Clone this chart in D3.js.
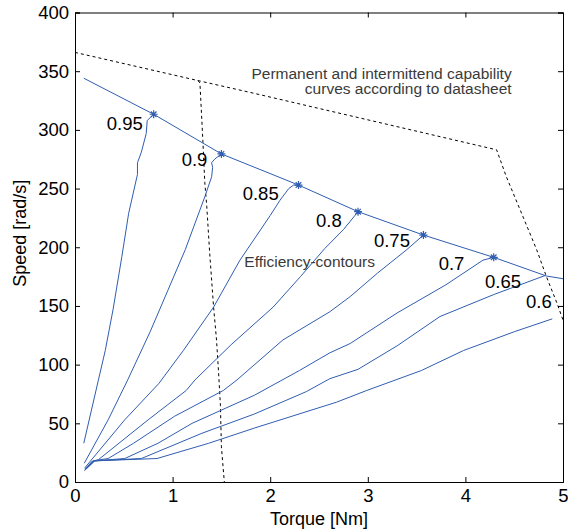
<!DOCTYPE html>
<html>
<head>
<meta charset="utf-8">
<script src="https://cdn.jsdelivr.net/npm/d3@7"></script>
<style>
  body { margin: 0; background: #fff; }
  svg { display: block; font-family: "Liberation Sans", Arial, sans-serif; }
</style>
</head>
<body>
<div id="chart"></div>
<script>
// torque [Nm] vs speed [rad/s]
const xTicks = [0, 1, 2, 3, 4, 5];
const yTicks = [0, 50, 100, 150, 200, 250, 300, 350, 400];

// upper operating envelope (blue)
const envelope = [[0.09, 344], [0.806, 313.3], [1.5, 279.5], [2.29, 253], [2.9, 230.3],
                  [3.57, 210.4], [4.29, 191.4], [4.83, 175.5], [5.0, 173.2]];

// stars on the envelope
const starPoints = [[0.806, 313.3], [1.5, 279.5], [2.29, 253], [2.9, 230.3], [3.57, 210.4], [4.29, 191.4]];

// datasheet capability curves (dashed)
const intermittent = [[0, 366], [1.26, 342], [1.79, 332], [4.32, 283], [4.42, 260],
                      [4.73, 198], [4.83, 175], [4.94, 152], [5.0, 138]];
const permanent = [[1.26, 342], [1.28, 340], [1.31, 291], [1.33, 255], [1.35, 235], [1.38, 195],
                   [1.42, 149], [1.45, 121], [1.47, 95], [1.49, 65], [1.50, 30], [1.53, 0]];

// efficiency contours
const effLevels = ['0.95', '0.9', '0.85', '0.8', '0.75', '0.7', '0.65', '0.6'];
const eff95 = [[0.09, 33], [0.24, 87], [0.31, 112], [0.39, 147], [0.48, 192], [0.55, 229], [0.64, 262],
               [0.64, 272], [0.68, 281], [0.73, 297], [0.74, 308], [0.806, 313.3]];
const eff90 = [[0.095, 16], [0.34, 53], [0.54, 87], [0.77, 128], [0.95, 163], [1.13, 198], [1.33, 243],
               [1.40, 260], [1.41, 268], [1.40, 272], [1.43, 275], [1.5, 279.5]];
const eff85 = [[0.1, 12], [0.15, 17], [0.51, 53], [0.86, 84], [1.11, 112], [1.42, 149], [1.69, 189],
               [2.0, 227], [2.1, 240], [2.19, 250], [2.24, 253], [2.29, 253]];
const eff80 = [[0.1, 11], [0.17, 17], [0.24, 19], [0.75, 53], [1.14, 78], [1.23, 87], [1.6, 117],
               [2.03, 149], [2.31, 175], [2.56, 199], [2.75, 215], [2.9, 230.3]];
const eff75 = [[0.1, 10], [0.18, 18], [0.34, 20], [0.6, 33], [1.02, 56], [1.52, 78], [1.66, 87],
               [2.13, 121], [2.61, 145], [2.82, 158], [3.1, 178], [3.40, 198], [3.57, 210.4]];
const eff70 = [[0.1, 10], [0.2, 18], [0.51, 20], [0.85, 33], [1.2, 50], [1.84, 74], [2.3, 95],
               [2.61, 110], [2.82, 118], [3.3, 144], [3.8, 168], [4.18, 189], [4.29, 191.4]];
const eff65 = [[0.1, 10], [0.2, 18], [0.68, 20], [1.3, 41.5], [1.84, 58], [2.37, 77], [2.61, 88],
               [2.9, 96], [3.3, 116], [3.74, 141], [4.3, 160], [4.82, 176]];
const eff60 = [[0.1, 10], [0.2, 18], [0.84, 20], [1.37, 33], [1.84, 46], [2.68, 68], [2.99, 78],
               [3.55, 95], [3.98, 112], [4.5, 128], [4.89, 139]];
const contours = [eff95, eff90, eff85, eff80, eff75, eff70, eff65, eff60];

// where each contour label sits (data units, left/baseline)
const labelPos = [[0.325, 300], [1.093, 269.5], [1.718, 240.3], [2.469, 217.5],
                  [3.063, 200.5], [3.726, 180.6], [4.201, 165], [4.621, 148]];

const width = 568, height = 532;
const margin = { top: 12.5, right: 5, bottom: 50, left: 75 };
const blue = '#2f5db0';
const grey = '#3a3a3a';

const svg = d3.select('#chart')
    .append('svg')
        .attr('width', width)
        .attr('height', height);

svg.append('rect')
    .attr('width', width)
    .attr('height', height)
    .attr('fill', '#fff');

const x = d3.scaleLinear().domain([0, 5]).range([margin.left, width - margin.right]);
const y = d3.scaleLinear().domain([0, 400]).range([height - margin.bottom, margin.top]);

svg.append('clipPath')
    .attr('id', 'plot-clip')
  .append('rect')
    .attr('x', margin.left)
    .attr('y', margin.top)
    .attr('width', x.range()[1] - margin.left)
    .attr('height', y.range()[0] - margin.top);

const line = d3.line()
    .x(d => x(d[0]))
    .y(d => y(d[1]));

const plot = svg.append('g').attr('clip-path', 'url(#plot-clip)');

// dashed datasheet curves
[intermittent, permanent].forEach(pts => {
    plot.append('path')
        .attr('d', line(pts))
        .attr('fill', 'none')
        .attr('stroke', '#000')
        .attr('stroke-width', 1)
        .attr('stroke-dasharray', '3,3');
});

// contours
plot.selectAll('path.contour')
    .data(contours)
    .enter()
    .append('path')
        .attr('class', 'contour')
        .attr('d', d => line(d))
        .attr('fill', 'none')
        .attr('stroke', blue)
        .attr('stroke-width', 1);

plot.append('path')
    .attr('d', line(envelope))
    .attr('fill', 'none')
    .attr('stroke', blue)
    .attr('stroke-width', 1);

// matlab style '*' markers
const s = 4;
const starPath = `M${-s},0L${s},0M0,${-s}L0,${s}M${-s * 0.7},${-s * 0.7}L${s * 0.7},${s * 0.7}M${-s * 0.7},${s * 0.7}L${s * 0.7},${-s * 0.7}`;
plot.selectAll('path.star')
    .data(starPoints)
    .enter()
    .append('path')
        .attr('class', 'star')
        .attr('d', starPath)
        .attr('transform', d => `translate(${x(d[0])},${y(d[1])})`)
        .attr('fill', 'none')
        .attr('stroke', blue)
        .attr('stroke-width', 1.2);

// contour labels
svg.selectAll('text.eff')
    .data(effLevels)
    .enter()
    .append('text')
        .attr('class', 'eff')
        .attr('x', (d, i) => x(labelPos[i][0]))
        .attr('y', (d, i) => y(labelPos[i][1]))
        .attr('font-size', '18.5px')
        .attr('fill', '#000')
        .text(d => d);

// annotations
const note = svg.append('text')
    .attr('text-anchor', 'end')
    .attr('font-size', '15.5px')
    .attr('fill', grey);
note.append('tspan').attr('x', x(4.474)).attr('y', y(343.4)).text('Permanent and intermittend capability');
note.append('tspan').attr('x', x(4.474)).attr('y', y(330.2)).text('curves according to datasheet');

svg.append('text')
    .attr('x', x(1.735))
    .attr('y', y(183.2))
    .attr('font-size', '15.5px')
    .attr('fill', grey)
    .text('Efficiency-contours');

// axes, ticks inward on all four sides
const tickLen = 5;
const xAxis = svg.append('g')
    .attr('transform', `translate(0,${y(0)})`)
    .call(d3.axisBottom(x).tickValues(xTicks).tickSize(-tickLen).tickPadding(7).tickFormat(d3.format('d')));
const yAxis = svg.append('g')
    .attr('transform', `translate(${x(0)},0)`)
    .call(d3.axisLeft(y).tickValues(yTicks).tickSize(-tickLen).tickPadding(6).tickFormat(d3.format('d')));
const xTop = svg.append('g')
    .attr('transform', `translate(0,${y(400)})`)
    .call(d3.axisTop(x).tickValues(xTicks).tickSize(-tickLen).tickFormat(''));
const yRight = svg.append('g')
    .attr('transform', `translate(${x(5)},0)`)
    .call(d3.axisRight(y).tickValues(yTicks).tickSize(-tickLen).tickFormat(''));

[xAxis, yAxis, xTop, yRight].forEach(g => {
    g.select('.domain').attr('stroke', '#000').attr('stroke-width', 1);
    g.selectAll('.tick line').attr('stroke', '#000');
    g.selectAll('.tick text')
        .attr('fill', '#000')
        .attr('font-size', '18.5px')
        .attr('font-family', '"Liberation Sans", Arial, sans-serif');
});

svg.append('text')
    .attr('x', (x(0) + x(5)) / 2)
    .attr('y', 525)
    .attr('text-anchor', 'middle')
    .attr('font-size', '18px')
    .text('Torque [Nm]');

svg.append('text')
    .attr('transform', `translate(26,${y(212)}) rotate(-90)`)
    .attr('text-anchor', 'middle')
    .attr('font-size', '18px')
    .text('Speed [rad/s]');
</script>
</body>
</html>
